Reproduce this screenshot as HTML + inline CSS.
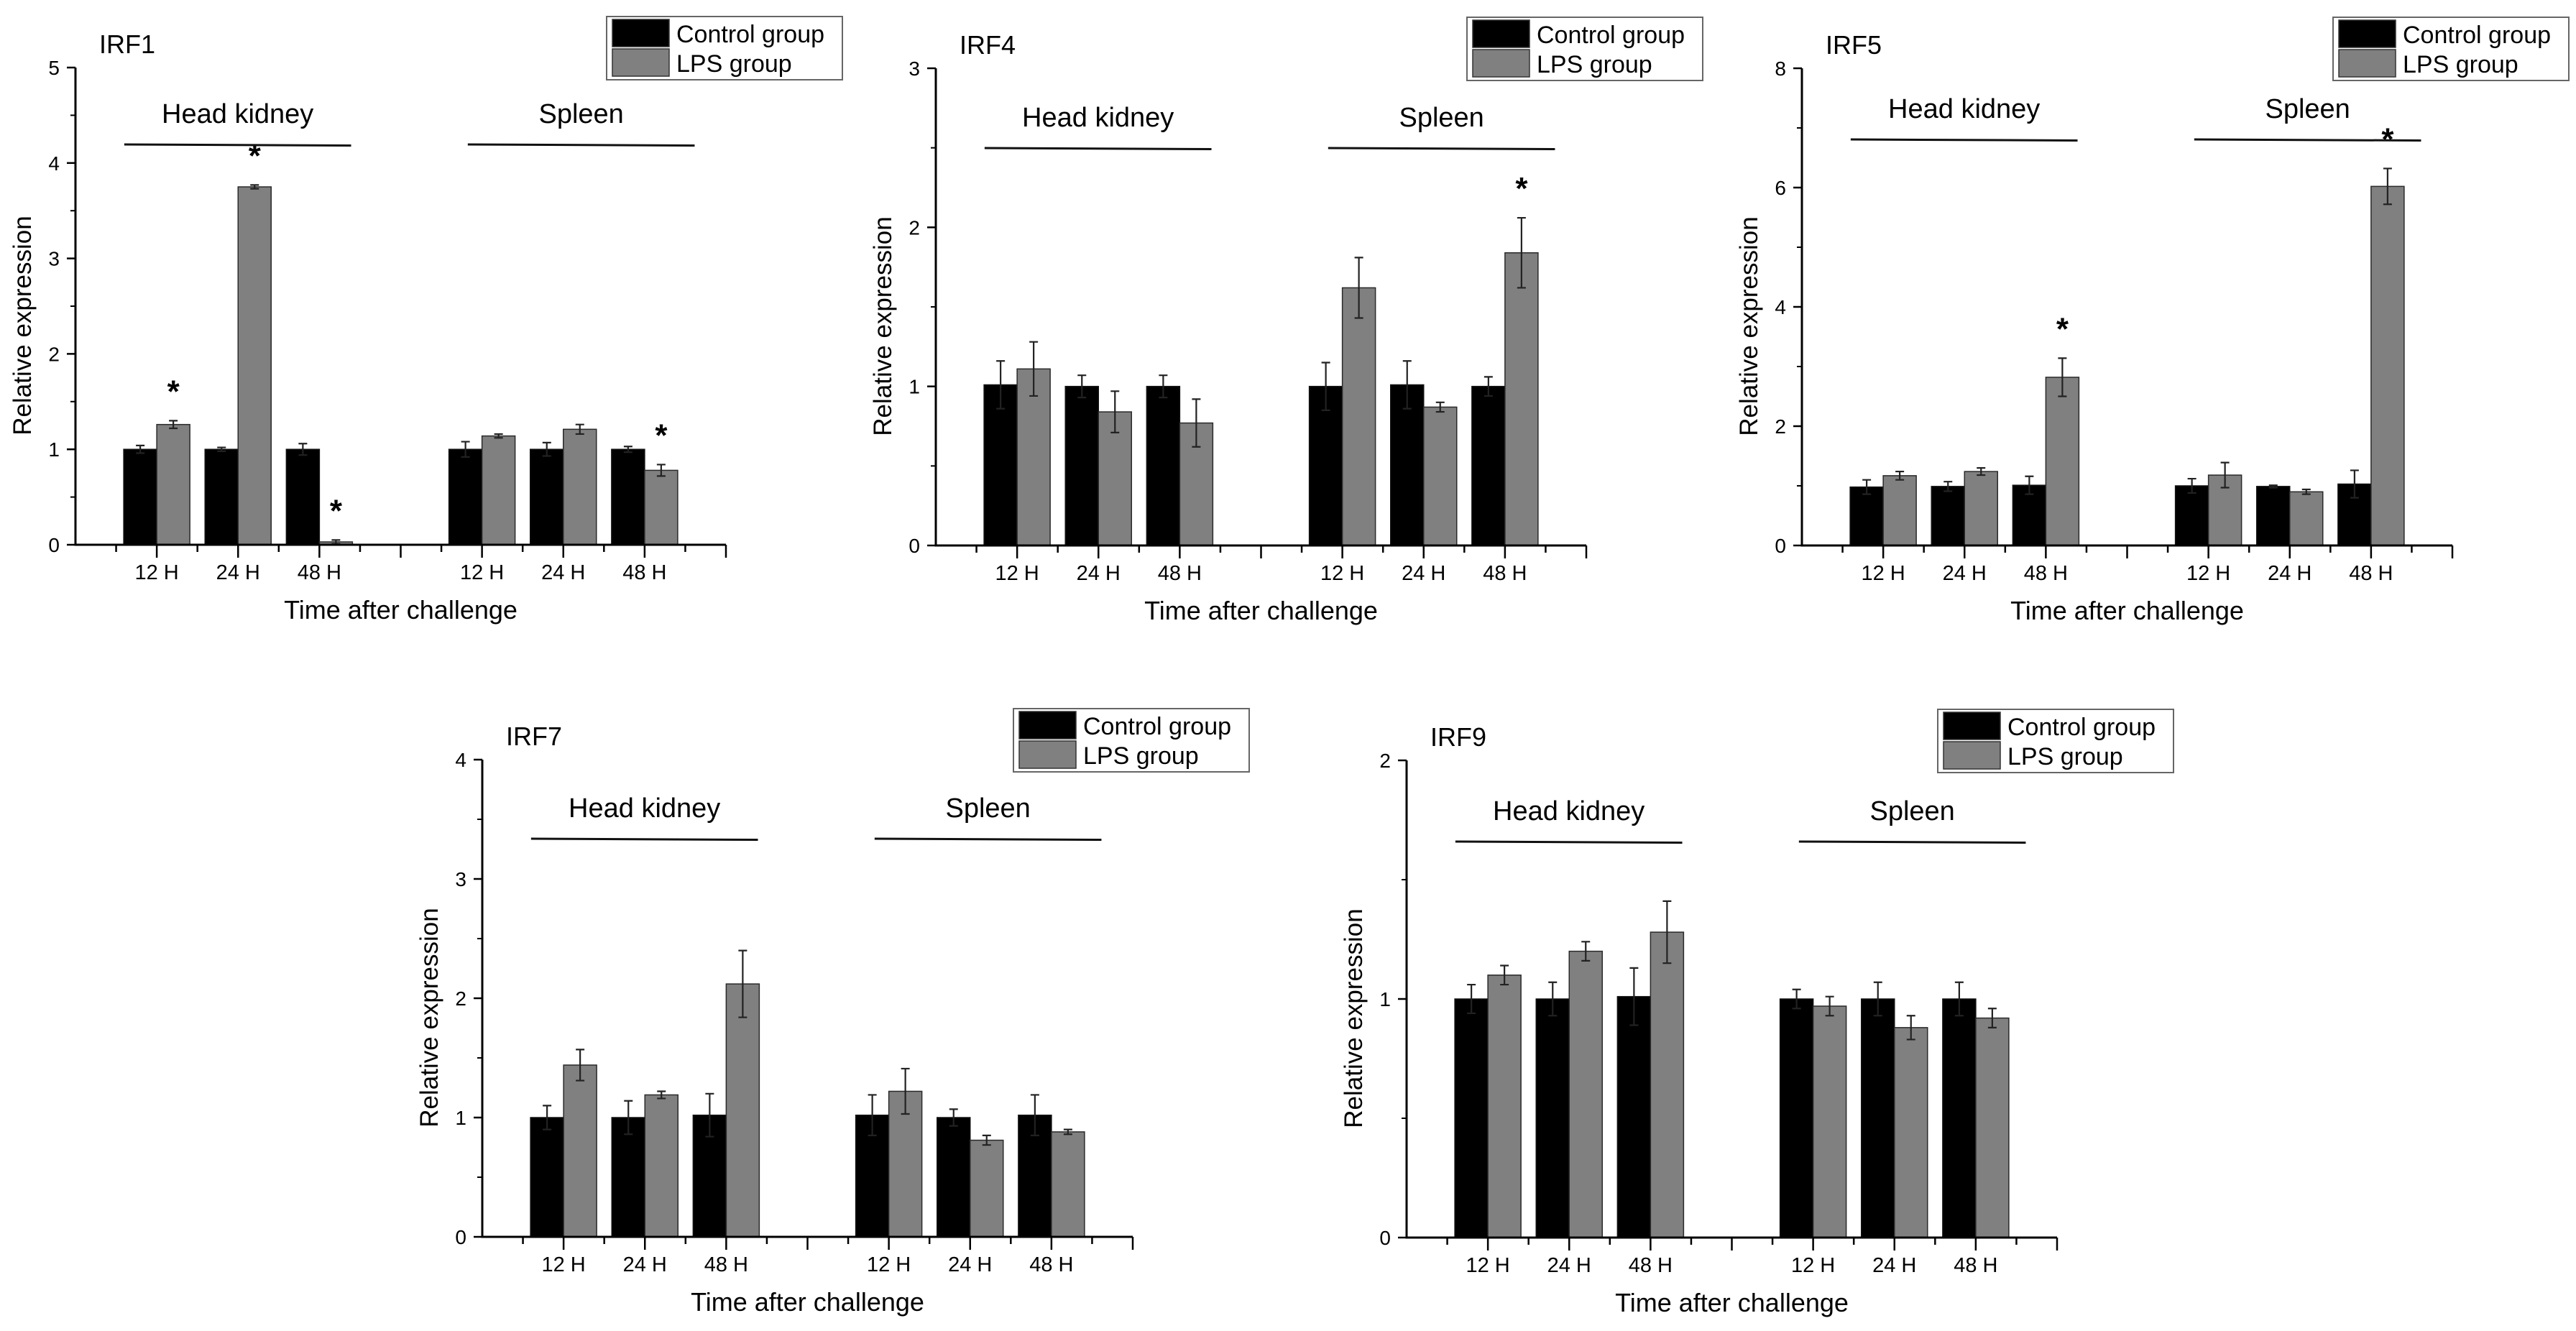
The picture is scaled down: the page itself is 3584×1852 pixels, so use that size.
<!DOCTYPE html>
<html><head><meta charset="utf-8"><style>
html,body{margin:0;padding:0;background:#fff;}
svg{display:block;font-family:"Liberation Sans",Arial,sans-serif;}
</style></head><body>
<svg id="fig" width="3584" height="1852" viewBox="0 0 3584 1852"></svg>
<script>
const categories = ["12 H","24 H","48 H","12 H","24 H","48 H"];
const tissues = ["Head kidney","Spleen"];
const seriesNames = ["Control group","LPS group"];

const irf1Control = [1.0,1.0,1.0,1.0,1.0,1.0];
const irf1ControlErr = [0.04,0.02,0.06,0.08,0.07,0.03];
const irf1Lps = [1.26,3.75,0.03,1.14,1.21,0.78];
const irf1LpsErr = [0.04,0.02,0.02,0.02,0.05,0.06];
const irf1Stars = [true,true,true,false,false,true];
const irf1Ticks = [0,1,2,3,4,5];

const irf4Control = [1.01,1.0,1.0,1.0,1.01,1.0];
const irf4ControlErr = [0.15,0.07,0.07,0.15,0.15,0.06];
const irf4Lps = [1.11,0.84,0.77,1.62,0.87,1.84];
const irf4LpsErr = [0.17,0.13,0.15,0.19,0.03,0.22];
const irf4Stars = [false,false,false,false,false,true];
const irf4Ticks = [0,1,2,3];

const irf5Control = [0.98,0.99,1.01,1.0,0.99,1.03];
const irf5ControlErr = [0.12,0.08,0.15,0.12,0.02,0.23];
const irf5Lps = [1.17,1.24,2.82,1.18,0.9,6.02];
const irf5LpsErr = [0.07,0.06,0.32,0.21,0.04,0.3];
const irf5Stars = [false,false,true,false,false,true];
const irf5Ticks = [0,2,4,6,8];

const irf7Control = [1.0,1.0,1.02,1.02,1.0,1.02];
const irf7ControlErr = [0.1,0.14,0.18,0.17,0.07,0.17];
const irf7Lps = [1.44,1.19,2.12,1.22,0.81,0.88];
const irf7LpsErr = [0.13,0.03,0.28,0.19,0.04,0.02];
const irf7Stars = [false,false,false,false,false,false];
const irf7Ticks = [0,1,2,3,4];

const irf9Control = [1.0,1.0,1.01,1.0,1.0,1.0];
const irf9ControlErr = [0.06,0.07,0.12,0.04,0.07,0.07];
const irf9Lps = [1.1,1.2,1.28,0.97,0.88,0.92];
const irf9LpsErr = [0.04,0.04,0.13,0.04,0.05,0.04];
const irf9Stars = [false,false,false,false,false,false];
const irf9Ticks = [0,1,2];

const NS = "http://www.w3.org/2000/svg";
const svg = document.getElementById("fig");
function mk(tag, attrs, parent){
  const e = document.createElementNS(NS, tag);
  for (const k in attrs) e.setAttribute(k, attrs[k]);
  (parent||svg).appendChild(e);
  return e;
}

const W = 905, H = 664, UNIT = W/16, BW = 46;
const catIdx = [2,4,6,10,12,14];

function panel(name, ox, oy, ticks, ctrl, ctrlErr, lps, lpsErr, stars, lineOff){
  const g = mk("g", {});
  
  
  const maxV = ticks[ticks.length-1];
  const y = v => oy - v/maxV*H;
  const x = i => ox + i*UNIT;

  for (let i=0;i<6;i++){
    const cx = x(catIdx[i]);
    const b1 = mk("rect", {x:cx-BW, y:y(ctrl[i]), width:BW, height:oy-y(ctrl[i]), fill:"#000", stroke:"#111","stroke-width":1.5}, g);
    
    
    const b2 = mk("rect", {x:cx, y:y(lps[i]), width:BW, height:oy-y(lps[i]), fill:"#808080", stroke:"#2a2a2a","stroke-width":1.5}, g);
    
    
    [[cx-BW/2, ctrl[i], ctrlErr[i]],[cx+BW/2, lps[i], lpsErr[i]]].forEach(([ex,v,e])=>{
      const eb = mk("path", {d:`M${ex},${y(v-e)}V${y(v+e)}M${ex-6},${y(v+e)}H${ex+6}M${ex-6},${y(v-e)}H${ex+6}`, stroke:"#222","stroke-width":2.2, fill:"none"}, g);
      
      
    });
    if (stars[i]){
      const s = mk("text", {x:cx+BW/2, y:y(lps[i]+lpsErr[i])-26, "font-size":44, "text-anchor":"middle", "font-weight":"bold"}, g);
      s.textContent = "*";
      
      
    }
  }
  const ax = mk("path", {d:`M${ox},${oy-H}V${oy}H${ox+W}`, stroke:"#000","stroke-width":3, fill:"none"}, g);
  
  
  for (let i=1;i<=16;i++){
    mk("line", {x1:x(i), x2:x(i), y1:oy, y2:oy+(i%2===0?18:10), stroke:"#000","stroke-width":2.5}, g);
  }
  const step = ticks[1]-ticks[0];
  for (let t=0;t<ticks.length;t++){
    const v = ticks[t];
    mk("line", {x1:ox-12, x2:ox, y1:y(v), y2:y(v), stroke:"#000","stroke-width":2.5}, g);
    if (t<ticks.length-1) mk("line", {x1:ox-7, x2:ox, y1:y(v+step/2), y2:y(v+step/2), stroke:"#000","stroke-width":2}, g);
    const tl = mk("text", {x:ox-22, y:y(v)+10, "font-size":28, "text-anchor":"end"}, g);
    tl.textContent = v;
    
    
  }
  for (let i=0;i<6;i++){
    const xl = mk("text", {x:x(catIdx[i]), y:oy+48, "font-size":29, "text-anchor":"middle"}, g);
    xl.textContent = categories[i];
    
    
  }
  const xt = mk("text", {x:ox+W/2, y:oy+103, "font-size":36, "text-anchor":"middle"}, g);
  xt.textContent = "Time after challenge";
  
  
  const yt = mk("text", {x:0, y:0, "font-size":35, "text-anchor":"middle", transform:`translate(${ox-62},${oy-305}) rotate(-90)`}, g);
  yt.textContent = "Relative expression";
  
  
  const pt = mk("text", {x:ox+33, y:oy-684, "font-size":36}, g);
  pt.textContent = name;
  
  
  [[1.2,6.78],[9.65,15.23]].forEach((r,k)=>{
    const ln = mk("line", {x1:x(r[0]), x2:x(r[1]), y1:oy-lineOff, y2:oy-lineOff+1.5, stroke:"#111","stroke-width":3}, g);
    
    
    const tt = mk("text", {x:(x(r[0])+x(r[1]))/2, y:oy-lineOff-30, "font-size":38, "text-anchor":"middle"}, g);
    tt.textContent = tissues[k];
    
    
  });
  const lg = mk("g", {}, g);
  
  
  const lx = ox+739, ly = oy-735;
  mk("rect", {x:lx, y:ly, width:328, height:88, fill:"#fff", stroke:"#666","stroke-width":2}, lg);
  [["#000"],["#808080"]].forEach((c,k)=>{
    const sw = mk("rect", {x:lx+8, y:ly+4+k*41, width:79, height:38, fill:c[0], stroke:"#333","stroke-width":1.5}, lg);
    
    
    const lt = mk("text", {x:lx+97, y:ly+36+k*41, "font-size":34}, lg);
    lt.textContent = seriesNames[k];
    
    
  });
}

panel("IRF1", 105, 758, irf1Ticks, irf1Control, irf1ControlErr, irf1Lps, irf1LpsErr, irf1Stars, 557);
panel("IRF4", 1302, 759, irf4Ticks, irf4Control, irf4ControlErr, irf4Lps, irf4LpsErr, irf4Stars, 553);
panel("IRF5", 2507, 759, irf5Ticks, irf5Control, irf5ControlErr, irf5Lps, irf5LpsErr, irf5Stars, 565);
panel("IRF7", 671, 1721, irf7Ticks, irf7Control, irf7ControlErr, irf7Lps, irf7LpsErr, irf7Stars, 554);
panel("IRF9", 1957, 1722, irf9Ticks, irf9Control, irf9ControlErr, irf9Lps, irf9LpsErr, irf9Stars, 551);
</script>
</body></html>
